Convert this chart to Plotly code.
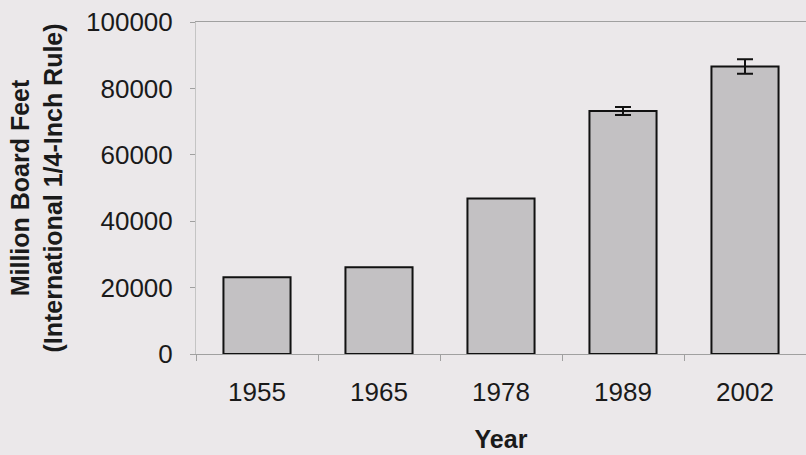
import plotly.graph_objects as go

years = ["1955", "1965", "1978", "1989", "2002"]
volume = [23100, 26100, 46800, 73200, 86600]
err_years = ["1989", "2002"]
err_volume = [73200, 86600]
err_size = [1200, 2200]
y_ticks = [0, 20000, 40000, 60000, 80000, 100000]

fig = go.Figure()
fig.add_trace(go.Bar(
    x=years, y=volume,
    marker=dict(color="#c3c1c3", line=dict(color="#111111", width=2)),
    width=0.55,
))
fig.add_trace(go.Scatter(
    x=err_years, y=err_volume, mode="markers",
    marker=dict(size=1, color="rgba(0,0,0,0)"),
    error_y=dict(type="data", array=err_size, visible=True, color="#111111", thickness=2, width=8),
))

fnt = "Liberation Sans, Arial, sans-serif"
fig.update_layout(
    width=806, height=455,
    margin=dict(l=196, r=0, t=22, b=101),
    paper_bgcolor="#ebe8ea", plot_bgcolor="#ebe8ea",
    showlegend=False,
    font=dict(family=fnt, color="#1a1a1a"),
)
fig.update_xaxes(
    type="category",
    showline=True, linecolor="#a0a0a0", linewidth=1, mirror=True,
    ticks="outside", tickson="boundaries", ticklen=6, tickcolor="#a0a0a0",
    tickfont=dict(size=26, family=fnt, color="#1a1a1a"),
    ticklabelstandoff=15,
    title=dict(text="<b>Year</b>", font=dict(size=25, family=fnt, color="#1a1a1a"), standoff=24),
    showgrid=False,
)
fig.update_yaxes(
    range=[0, 100000], tickvals=y_ticks, ticktext=[str(v) for v in y_ticks],
    showline=True, linecolor="#c4c4c4", linewidth=1,
    ticks="outside", ticklen=5, tickcolor="#a0a0a0",
    tickfont=dict(size=26, family=fnt, color="#1a1a1a"),
    ticklabelstandoff=12,
    title=dict(text="<b>Million Board Feet<br>(International 1/4-Inch Rule)</b>",
               font=dict(size=25, family=fnt, color="#1a1a1a"), standoff=16),
    showgrid=False, zeroline=False,
)

fig.write_html("out.html", config={"displayModeBar": False})

with open("out.html", "r", encoding="utf-8") as f:
    html = f.read()
html = html.replace("<body>", '<body style="margin:0;background:#ebe8ea">', 1)
with open("out.html", "w", encoding="utf-8") as f:
    f.write(html)
